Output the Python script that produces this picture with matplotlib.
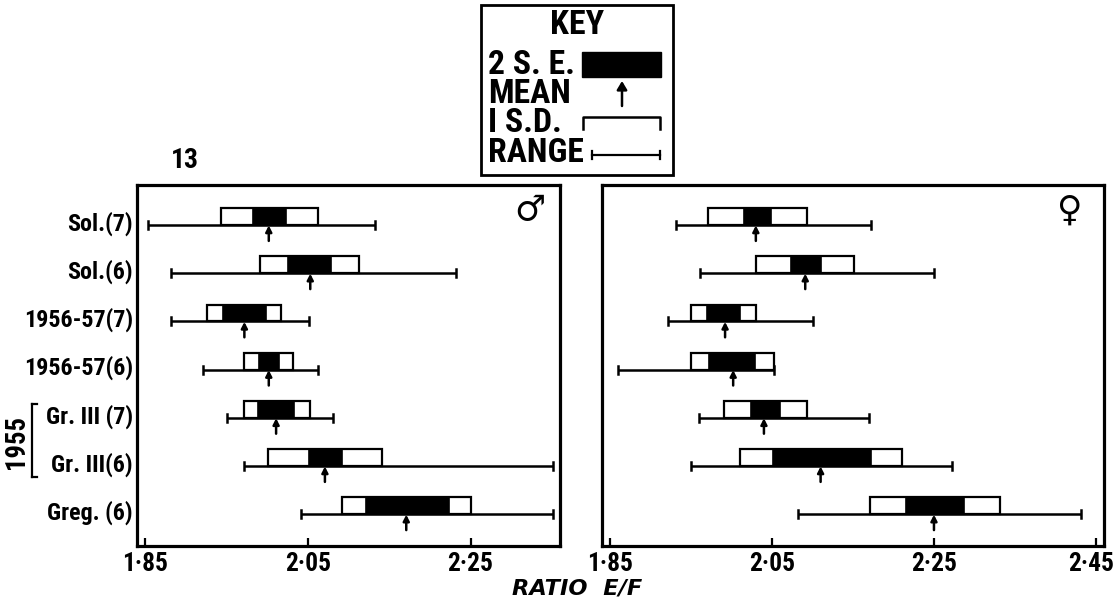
import matplotlib
matplotlib.use("Agg")
import matplotlib.pyplot as plt
from matplotlib.lines import Line2D
from matplotlib.patches import Rectangle, FancyArrowPatch
from matplotlib.transforms import ScaledTranslation
from matplotlib import font_manager

# ---------------- data ----------------
categories = ["Sol.(7)", "Sol.(6)", "1956-57(7)", "1956-57(6)",
              "Gr. III (7)", "Gr. III(6)", "Greg. (6)"]

# male
m_range_min = [1.853, 1.882, 1.882, 1.921, 1.951, 1.972, 2.041]
m_range_max = [2.132, 2.232, 2.052, 2.062, 2.081, 2.351, 2.351]
m_sd_lo = [1.943, 1.991, 1.926, 1.971, 1.971, 2.001, 2.092]
m_sd_hi = [2.062, 2.113, 2.017, 2.032, 2.053, 2.141, 2.250]
m_se_lo = [1.982, 2.026, 1.946, 1.990, 1.989, 2.051, 2.121]
m_se_hi = [2.023, 2.079, 1.998, 2.014, 2.033, 2.092, 2.223]
m_mean = [2.002, 2.053, 1.972, 2.002, 2.011, 2.071, 2.171]

# female
f_range_min = [1.931, 1.961, 1.921, 1.860, 1.960, 1.950, 2.082]
f_range_max = [2.172, 2.250, 2.100, 2.052, 2.170, 2.272, 2.431]
f_sd_lo = [1.971, 2.030, 1.950, 1.950, 1.991, 2.010, 2.171]
f_sd_hi = [2.093, 2.151, 2.030, 2.052, 2.093, 2.211, 2.331]
f_se_lo = [2.015, 2.073, 1.970, 1.972, 2.024, 2.051, 2.215]
f_se_hi = [2.049, 2.110, 2.010, 2.029, 2.060, 2.172, 2.287]
f_mean = [2.030, 2.091, 1.992, 2.002, 2.040, 2.110, 2.250]

left_ticks = [1.85, 2.05, 2.25]
left_ticklabels = ["1·85", "2·05", "2·25"]
right_ticks = [1.85, 2.05, 2.25, 2.45]
right_ticklabels = ["1·85", "2·05", "2·25", "2·45"]
key_labels = ["2 S. E.", "MEAN", "I S.D.", "RANGE"]

W, H = 1117, 600

available = {f.name for f in font_manager.fontManager.ttflist}
FONT = "DejaVu Sans"
for cand in ["Liberation Sans Narrow", "Roboto Condensed", "Open Sans Condensed",
             "Roboto", "Lato", "Open Sans"]:
    if cand in available:
        FONT = cand
        break

fig = plt.figure(figsize=(W / 100, H / 100), dpi=100)
fig.patch.set_facecolor("white")
renderer = fig.canvas.get_renderer()


def fit_size(sample, target_px, family=FONT, weight="bold", style="normal", base=18):
    t = fig.text(0, 0, sample, fontsize=base, family=family, fontweight=weight,
                 fontstyle=style)
    w = t.get_window_extent(renderer=renderer).width
    t.remove()
    return base * target_px / w


def fx(px):
    return px / W


def fy(py):
    return 1 - py / H


LABEL_FS = fit_size("1956-57(7)", 110)
TICK_FS = fit_size("2·05", 46)
KEY_FS = fit_size("RANGE", 96)
KEYT_FS = fit_size("KEY", 54)
YEAR_FS = fit_size("1955", 54)
NUM_FS = fit_size("13", 28)
XLAB_FS = fit_size("RATIO  E/F", 130, family="DejaVu Sans", style="italic")

BOX_H = 0.35
CAP = 0.085
ARROW = 0.33


def draw_panel(ax, rmin, rmax, sdlo, sdhi, selo, sehi, mean):
    for i in range(len(rmin)):
        ax.plot([rmin[i], rmax[i]], [i, i], color="black", lw=1.8,
                solid_capstyle="butt", zorder=2)
        for xv in (rmin[i], rmax[i]):
            ax.plot([xv, xv], [i - CAP, i + CAP], color="black", lw=1.8, zorder=2)
        ax.add_patch(Rectangle((sdlo[i], i - BOX_H), sdhi[i] - sdlo[i], BOX_H,
                               facecolor="white", edgecolor="black", lw=1.6, zorder=3))
        ax.add_patch(Rectangle((selo[i], i - BOX_H), sehi[i] - selo[i], BOX_H,
                               facecolor="black", edgecolor="black", lw=1.2, zorder=4))
        ax.annotate("", xy=(mean[i], i + 0.01), xytext=(mean[i], i + ARROW),
                    arrowprops=dict(arrowstyle="-|>,head_length=0.35,head_width=0.18",
                                    color="black", lw=1.8, shrinkA=0, shrinkB=0),
                    zorder=5)
    ax.set_ylim(6.66, -0.83)
    for s in ax.spines.values():
        s.set_linewidth(2.3)
    ax.tick_params(axis="x", direction="in", length=6, width=1.6, pad=4)
    for lab in ax.get_xticklabels():
        lab.set_fontfamily(FONT)
        lab.set_fontweight("bold")
        lab.set_fontsize(TICK_FS)


# left panel (male)
axL = fig.add_axes([fx(137), fy(546), fx(560) - fx(137), fy(185) - fy(546)])
axL.set_xlim(1.84, 2.36)
axL.set_xticks(left_ticks)
axL.set_xticklabels(left_ticklabels)
draw_panel(axL, m_range_min, m_range_max, m_sd_lo, m_sd_hi, m_se_lo, m_se_hi, m_mean)
axL.set_yticks(range(len(categories)))
axL.set_yticklabels(categories)
axL.tick_params(axis="y", length=0, pad=3)
off = ScaledTranslation(0, 4 / 100, fig.dpi_scale_trans)
for lab in axL.get_yticklabels():
    lab.set_fontfamily(FONT)
    lab.set_fontweight("bold")
    lab.set_fontsize(LABEL_FS)
    lab.set_transform(lab.get_transform() + off)
axL.text(0.965, 0.93, "♂", transform=axL.transAxes, ha="right", va="center",
         fontsize=25, family="DejaVu Sans")

# right panel (female)
axR = fig.add_axes([fx(602), fy(546), fx(1104) - fx(602), fy(185) - fy(546)])
axR.set_xlim(1.84, 2.46)
axR.set_xticks(right_ticks)
axR.set_xticklabels(right_ticklabels)
draw_panel(axR, f_range_min, f_range_max, f_sd_lo, f_sd_hi, f_se_lo, f_se_hi, f_mean)
axR.set_yticks([])
last = axR.get_xticklabels()[-1]
last.set_transform(last.get_transform() + ScaledTranslation(-5 / 100, 0, fig.dpi_scale_trans))
axR.text(0.93, 0.93, "♀", transform=axR.transAxes, ha="center", va="center",
         fontsize=25, family="DejaVu Sans")

# figure number
fig.text(fx(185), fy(161), "13", ha="center", va="center", fontsize=NUM_FS,
         fontweight="bold", family=FONT)

# x label
fig.text(fx(577), fy(588), "RATIO  E/F", ha="center", va="center",
         fontsize=XLAB_FS, fontweight="bold", fontstyle="italic", family="DejaVu Sans")

# 1955 bracket
fig.text(fx(16), fy(442), "1955", rotation=90, ha="center", va="center",
         fontsize=YEAR_FS, fontweight="bold", family=FONT)
bx, by0, by1 = 32, 404, 477
for line in ([bx, bx], [by0, by1]), ([bx, bx + 5], [by0, by0]), ([bx, bx + 5], [by1, by1]):
    fig.add_artist(Line2D([fx(v) for v in line[0]], [fy(v) for v in line[1]],
                          color="black", lw=1.6))

# KEY box
kx0, ky0, kx1, ky1 = 481, 5, 673, 175
fig.add_artist(Rectangle((fx(kx0), fy(ky1)), fx(kx1) - fx(kx0), fy(ky0) - fy(ky1),
                         facecolor="white", edgecolor="black", lw=2.0,
                         transform=fig.transFigure))
fig.text(fx(577), fy(25), "KEY", ha="center", va="center", fontsize=KEYT_FS,
         fontweight="bold", family=FONT)
key_y = [65, 94, 123, 153]
for lab, yy in zip(key_labels, key_y):
    fig.text(fx(488), fy(yy), lab, ha="left", va="center", fontsize=KEY_FS,
             fontweight="bold", family=FONT)
# 2 SE symbol
fig.add_artist(Rectangle((fx(582), fy(77)), fx(661) - fx(582), fy(52) - fy(77),
                         facecolor="black", edgecolor="black", lw=1,
                         transform=fig.transFigure))
# mean arrow
fig.add_artist(FancyArrowPatch(
    (fx(622), fy(106)), (fx(622), fy(81)), transform=fig.transFigure,
    arrowstyle="-|>,head_length=5,head_width=3", color="black", lw=1.8,
    shrinkA=0, shrinkB=0))
# SD bracket
fig.add_artist(Line2D([fx(583), fx(583), fx(660), fx(660)],
                      [fy(129), fy(117), fy(117), fy(129)], color="black", lw=1.8))
# range
fig.add_artist(Line2D([fx(592), fx(660)], [fy(155), fy(155)], color="black", lw=1.6))
for xv in (592, 660):
    fig.add_artist(Line2D([fx(xv), fx(xv)], [fy(151), fy(159)], color="black", lw=1.6))

fig.savefig("out.png", dpi=100, facecolor="white")
